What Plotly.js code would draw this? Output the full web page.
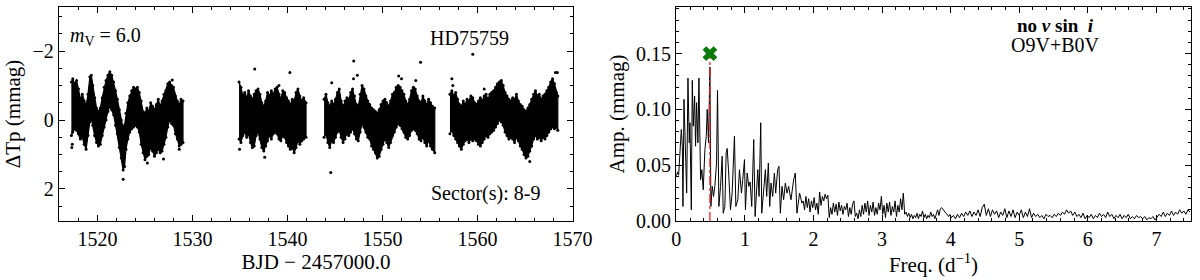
<!DOCTYPE html>
<html><head><meta charset="utf-8">
<script src="https://cdn.plot.ly/plotly-3.0.1.min.js"></script>
<style>html,body{margin:0;padding:0;background:#fff}#chart{width:1200px;height:280px}</style>
</head><body><div id="chart"></div>
<script>
// ---------- Light curve (TESS sectors 8-9), band envelopes ----------
const seg1T  = [1517.25,1517.4,1517.6,1517.8,1518.0,1518.2,1518.4,1518.6,1518.8,1519.0,1519.2,1519.35,1519.5,1519.7,1519.9,1520.1,1520.3,1520.5,1520.7,1520.9,1521.1,1521.3,1521.5,1521.7,1521.9,1522.1,1522.3,1522.5,1522.7,1522.85,1523.0,1523.2,1523.4,1523.6,1523.8,1524.0,1524.2,1524.4,1524.6,1524.8,1525.0,1525.2,1525.4,1525.6,1525.8,1526.0,1526.2,1526.4,1526.6,1526.8,1527.0,1527.2,1527.4,1527.6,1527.8,1528.0,1528.2,1528.4,1528.6,1528.8,1529.0];
const seg1Up = [-1.10,-1.20,-1.05,-1.15,-0.90,-0.60,-0.75,-0.55,-0.40,-0.75,-1.25,-1.30,-1.00,-0.65,-0.35,-0.25,-0.35,-0.65,-0.95,-1.15,-1.30,-1.40,-1.30,-1.10,-0.85,-0.60,-0.30,0.00,0.25,0.15,-0.20,-0.50,-0.70,-0.85,-0.95,-0.90,-0.95,-0.80,-0.55,-0.25,-0.20,-0.35,-0.25,-0.50,-0.40,-0.30,-0.45,-0.60,-0.40,-0.55,-0.75,-0.85,-1.05,-1.10,-1.00,-0.95,-0.70,-0.55,-0.45,-0.60,-0.55];
const seg1Lo = [0.45,0.35,0.25,0.30,0.40,0.55,0.50,0.70,0.85,0.45,0.05,-0.05,0.15,0.45,0.65,0.75,0.70,0.45,0.20,0.00,-0.25,-0.40,-0.30,-0.15,0.15,0.40,0.80,1.10,1.45,1.35,0.85,0.55,0.35,0.25,0.20,0.15,0.20,0.35,0.70,0.95,1.15,1.05,1.00,0.80,0.90,1.05,0.95,0.85,0.95,0.90,0.70,0.50,0.20,0.00,0.10,0.15,0.40,0.55,0.75,0.70,0.65];

const seg2T  = [1534.9,1535.1,1535.3,1535.5,1535.7,1535.9,1536.1,1536.3,1536.5,1536.7,1536.9,1537.1,1537.3,1537.5,1537.7,1537.9,1538.1,1538.3,1538.5,1538.7,1538.9,1539.1,1539.3,1539.5,1539.7,1539.9,1540.1,1540.3,1540.5,1540.7,1540.9,1541.1,1541.3,1541.5,1541.7,1541.95];
const seg2Up = [-1.10,-0.95,-0.70,-0.80,-0.65,-0.85,-0.70,-0.60,-0.75,-0.85,-0.90,-0.75,-0.50,-0.40,-0.55,-0.80,-0.70,-0.85,-0.75,-0.90,-0.95,-0.75,-0.60,-0.85,-0.80,-0.65,-0.55,-0.45,-0.60,-0.55,-0.80,-0.90,-0.70,-0.55,-0.65,-0.50];
const seg2Lo = [0.55,0.65,0.45,0.35,0.50,0.40,0.65,0.80,0.75,0.45,0.35,0.55,0.80,0.90,0.75,0.60,0.45,0.55,0.40,0.35,0.40,0.55,0.60,0.45,0.50,0.65,0.75,0.85,0.80,0.95,0.80,0.60,0.70,0.60,0.55,0.50];

const seg3T  = [1543.85,1544.05,1544.25,1544.45,1544.65,1544.85,1545.05,1545.25,1545.45,1545.65,1545.85,1546.05,1546.25,1546.45,1546.65,1546.85,1547.05,1547.25,1547.45,1547.65,1547.85,1548.05,1548.25,1548.45,1548.65,1548.85,1549.05,1549.25,1549.45,1549.65,1549.85,1550.05,1550.25,1550.45,1550.65,1550.85,1551.05,1551.25,1551.45,1551.65,1551.85,1552.05,1552.25,1552.45,1552.65,1552.85,1553.05,1553.25,1553.45,1553.65,1553.85,1554.05,1554.25,1554.45,1554.65,1554.85,1555.05,1555.25,1555.5];
const seg3Up = [-0.60,-0.75,-0.50,-0.40,-0.55,-0.45,-0.60,-0.80,-0.90,-0.55,-0.40,-0.55,-0.65,-0.60,-0.80,-0.90,-0.70,-0.45,-0.40,-0.75,-1.00,-0.90,-0.70,-0.55,-0.45,-0.35,-0.30,-0.25,-0.20,-0.30,-0.45,-0.55,-0.60,-0.50,-0.40,-0.55,-0.75,-0.80,-0.95,-1.00,-0.95,-0.85,-0.75,-0.55,-0.45,-0.60,-0.85,-0.95,-0.90,-0.70,-0.55,-0.50,-0.70,-0.55,-0.45,-0.60,-0.50,-0.40,-0.35];
const seg3Lo = [0.50,0.40,0.65,0.80,0.60,0.65,0.50,0.35,0.30,0.50,0.65,0.55,0.40,0.45,0.35,0.25,0.40,0.55,0.60,0.35,0.10,0.20,0.35,0.50,0.55,0.75,0.85,0.95,1.10,1.05,0.85,0.70,0.55,0.65,0.80,0.65,0.45,0.35,0.20,0.10,0.15,0.25,0.35,0.50,0.55,0.45,0.30,0.25,0.30,0.40,0.55,0.60,0.50,0.65,0.75,0.60,0.75,0.85,0.95];

const seg4T  = [1557.1,1557.3,1557.5,1557.7,1557.9,1558.1,1558.3,1558.5,1558.7,1558.9,1559.1,1559.3,1559.5,1559.7,1559.9,1560.1,1560.3,1560.5,1560.7,1560.9,1561.1,1561.3,1561.5,1561.7,1561.9,1562.1,1562.3,1562.5,1562.7,1562.9,1563.1,1563.3,1563.5,1563.7,1563.9,1564.1,1564.3,1564.5,1564.7,1564.9,1565.1,1565.3,1565.5,1565.7,1565.9,1566.1,1566.3,1566.5,1566.7,1566.9,1567.1,1567.3,1567.5,1567.7,1567.9,1568.1,1568.3,1568.45];
const seg4Up = [-0.75,-0.85,-0.70,-0.80,-0.60,-0.45,-0.40,-0.55,-0.45,-0.60,-0.55,-0.70,-0.65,-0.50,-0.45,-0.55,-0.65,-0.55,-0.70,-0.75,-0.60,-0.75,-0.80,-0.85,-0.95,-1.05,-1.10,-1.15,-1.00,-0.80,-0.70,-0.60,-0.55,-0.65,-0.60,-0.75,-0.55,-0.45,-0.40,-0.30,-0.25,-0.35,-0.45,-0.60,-0.75,-0.85,-0.70,-0.75,-0.60,-0.70,-0.75,-0.85,-0.95,-1.10,-1.20,-1.05,-0.80,-0.70];
const seg4Lo = [0.40,0.30,0.45,0.55,0.65,0.75,0.85,0.70,0.60,0.55,0.65,0.55,0.60,0.55,0.60,0.70,0.75,0.65,0.55,0.45,0.50,0.40,0.35,0.30,0.20,0.10,0.00,0.05,0.15,0.35,0.45,0.55,0.50,0.55,0.65,0.50,0.60,0.75,0.85,1.00,1.10,1.05,0.90,0.75,0.55,0.45,0.55,0.50,0.60,0.50,0.55,0.45,0.35,0.25,0.20,0.25,0.20,0.30];

// isolated points outside the band
const outT   = [1517.3,1517.35,1522.7,1525.25,1526.95,1528.6,1527.87,1536.55,1540.25,1539.1,1537.6,1534.95,1546.97,1554.0,1544.55,1544.66,1547.35,1546.95,1551.7,1552.0,1553.5,1559.5,1557.3,1557.4,1560.7,1568.2,1568.4,1565.5];
const outMag = [0.80,0.70,1.72,1.25,1.13,0.85,-1.16,-1.48,-1.38,-1.00,1.08,0.85,-1.71,-1.68,1.52,-1.08,-1.30,-1.20,-1.28,-1.20,-1.15,-1.91,-1.20,-1.00,-0.90,-1.38,-1.38,1.20];

// ---------- Amplitude spectrum ----------
const specF = [0.000,0.015,0.034,0.054,0.073,0.088,0.097,0.112,0.131,0.151,0.170,0.189,0.199,0.219,0.233,0.248,0.267,0.281,0.296,0.315,0.330,0.344,0.354,0.373,0.393,0.417,0.437,0.451,0.470,0.490,0.504,0.524,0.543,0.562,0.587,0.601,0.621,0.645,0.669,0.684,0.708,0.727,0.742,0.761,0.790,0.814,0.829,0.848,0.868,0.897,0.921,0.950,0.969,0.994,1.008,1.033,1.057,1.076,1.100,1.129,1.149,1.168,1.188,1.207,1.231,1.246,1.275,1.299,1.318,1.342,1.362,1.381,1.405,1.430,1.449,1.478,1.497,1.517,1.541,1.565,1.590,1.614,1.638,1.672,1.711,1.735,1.759,1.798,1.832,
1.85,1.87,1.89,1.91,1.93,1.95,1.97,1.99,2.01,2.03,2.05,2.07,2.09,2.11,2.13,2.15,2.17,2.19,2.21,2.23,2.25,2.27,2.29,2.31,2.33,2.35,2.37,2.39,2.41,2.43,2.45,2.47,2.49,2.51,2.53,2.55,2.57,2.59,2.61,2.63,2.65,2.67,2.69,2.71,2.73,2.75,2.77,2.79,2.81,2.83,2.85,2.87,2.89,2.91,2.93,2.95,2.97,2.99,3.01,3.03,3.05,3.07,3.09,3.11,3.13,3.15,3.17,3.19,3.21,3.23,3.25,3.27,3.29,3.31,3.33,3.35,3.37,3.39,3.41,3.43,3.45,3.47,3.49,3.51,3.53,3.55,3.57,3.59,3.61,3.63,3.65,3.67,3.69,3.71,3.73,3.75,3.77,3.79,3.81,3.83,3.85,3.87,3.89,3.91,3.93,3.95,3.97,3.99,4.01,4.04,4.07,4.10,4.13,4.16,4.19,4.22,4.25,4.28,4.31,4.34,4.37,4.40,4.43,4.46,4.49,4.52,4.55,4.58,4.61,4.64,4.67,4.70,4.73,4.76,4.79,4.82,4.85,4.88,4.91,4.94,4.97,5.00,5.03,5.06,5.09,5.12,5.15,5.18,5.21,5.24,5.27,5.30,5.33,5.36,5.39,5.42,5.45,5.48,5.51,5.54,5.57,5.60,5.63,5.66,5.69,5.72,5.75,5.78,5.81,5.84,5.87,5.90,5.93,5.96,5.99,6.02,6.05,6.08,6.11,6.14,6.17,6.20,6.23,6.26,6.29,6.32,6.35,6.38,6.41,6.44,6.47,6.50,6.53,6.56,6.59,6.62,6.65,6.68,6.71,6.74,6.77,6.80,6.83,6.86,6.89,6.92,6.95,6.98,7.01,7.04,7.07,7.10,7.13,7.16,7.19,7.22,7.25,7.28,7.31,7.34,7.37,7.40,7.43,7.46,7.49];
const specA = [0.040,0.044,0.041,0.061,0.082,0.067,0.013,0.109,0.067,0.025,0.128,0.070,0.088,0.010,0.126,0.085,0.112,0.067,0.106,0.070,0.128,0.061,0.037,0.046,0.028,0.064,0.076,0.100,0.070,0.138,0.013,0.031,0.022,0.031,0.052,0.117,0.013,0.031,0.058,0.007,0.013,0.061,0.065,0.046,0.010,0.025,0.046,0.076,0.013,0.019,0.046,0.025,0.037,0.055,0.010,0.043,0.031,0.035,0.013,0.073,0.004,0.025,0.046,0.022,0.088,0.007,0.028,0.046,0.022,0.052,0.013,0.034,0.022,0.043,0.025,0.046,0.049,0.007,0.031,0.019,0.034,0.025,0.031,0.019,0.037,0.043,0.007,0.025,0.016,
0.018,0.010,0.022,0.012,0.020,0.008,0.018,0.012,0.021,0.010,0.016,0.006,0.026,0.014,0.022,0.018,0.024,0.020,0.023,0.003,0.012,0.006,0.016,0.008,0.015,0.005,0.017,0.009,0.014,0.006,0.013,0.010,0.016,0.004,0.012,0.006,0.015,0.018,0.004,0.007,0.002,0.010,0.004,0.014,0.006,0.016,0.008,0.018,0.005,0.014,0.008,0.017,0.005,0.012,0.006,0.016,0.010,0.022,0.006,0.014,0.003,0.016,0.008,0.017,0.005,0.013,0.008,0.018,0.004,0.014,0.008,0.020,0.010,0.025,0.006,0.008,0.004,0.007,0.003,0.006,0.002,0.005,0.003,0.007,0.002,0.006,0.004,0.009,0.003,0.006,0.002,0.005,0.003,0.008,0.004,0.006,0.002,0.006,0.010,0.005,0.011,0.012,0.010,0.009,0.007,0.006,0.004,0.006,0.003,0.005,0.002,0.006,0.003,0.007,0.004,0.008,0.005,0.009,0.004,0.008,0.005,0.010,0.004,0.012,0.015,0.005,0.011,0.004,0.010,0.006,0.009,0.003,0.008,0.005,0.011,0.003,0.009,0.004,0.010,0.003,0.008,0.005,0.010,0.003,0.008,0.004,0.011,0.003,0.007,0.004,0.006,0.003,0.005,0.002,0.006,0.004,0.005,0.003,0.006,0.004,0.007,0.005,0.008,0.006,0.010,0.007,0.009,0.005,0.008,0.004,0.006,0.003,0.007,0.002,0.005,0.003,0.006,0.002,0.005,0.003,0.007,0.004,0.006,0.003,0.008,0.004,0.006,0.002,0.005,0.003,0.006,0.002,0.005,0.003,0.006,0.002,0.004,0.002,0.005,0.003,0.004,0.002,0.004,0.001,0.003,0.002,0.004,0.001,0.004,0.006,0.004,0.008,0.004,0.007,0.005,0.009,0.005,0.008,0.006,0.010,0.007,0.009,0.006,0.010,0.008];

const peakF = [0.49];
const peakA = [0.150];

// ---------- build traces ----------
const FONT = 'Liberation Serif, Times New Roman, serif';
const segs = [[seg1T,seg1Up,seg1Lo],[seg2T,seg2Up,seg2Lo],[seg3T,seg3Up,seg3Lo],[seg4T,seg4Up,seg4Lo]];
const traces = [];
segs.forEach(([t,u,l]) => {
  traces.push({
    x: t.concat(t.slice().reverse()),
    y: u.concat(l.slice().reverse()),
    mode: 'lines', fill: 'toself', fillcolor: '#000',
    line: {color: '#000', width: 1.2},
    xaxis: 'x', yaxis: 'y', hoverinfo: 'skip', showlegend: false
  });
  traces.push({
    x: t.concat(t), y: u.concat(l), mode: 'markers',
    marker: {color: '#000', size: 3},
    xaxis: 'x', yaxis: 'y', hoverinfo: 'skip', showlegend: false
  });
});
traces.push({x: outT, y: outMag, mode: 'markers', marker: {color: '#000', size: 3},
  xaxis: 'x', yaxis: 'y', showlegend: false});
traces.push({x: specF, y: specA, mode: 'lines', line: {color: '#000', width: 1},
  xaxis: 'x2', yaxis: 'y2', showlegend: false});
traces.push({x: [peakF[0], peakF[0]], y: [0, peakA[0]], mode: 'lines',
  line: {color: '#ff2020', width: 1.3, dash: 'dashdot'}, xaxis: 'x2', yaxis: 'y2', showlegend: false});
traces.push({x: peakF, y: peakA, mode: 'markers',
  marker: {symbol: 'x', size: 13, color: '#0a7a0a'}, xaxis: 'x2', yaxis: 'y2', showlegend: false});

const axBase = {
  showline: true, linecolor: '#000', linewidth: 1.2, mirror: 'allticks',
  ticks: 'inside', ticklen: 6, tickwidth: 1, tickcolor: '#000',
  showgrid: false, zeroline: false,
  tickfont: {family: FONT, size: 20, color: '#000'}
};
const W = 1200, H = 280;
const TS = 21;
const layout = {
  width: W, height: H,
  margin: {l: 0, r: 0, t: 0, b: 0},
  paper_bgcolor: '#fff', plot_bgcolor: '#fff',
  font: {family: FONT, color: '#000'},
  xaxis: Object.assign({}, axBase, {
    domain: [59/W, 573/W], range: [1515.95, 1570.05], dtick: 10, tick0: 1520,
    minor: {ticks: 'inside', ticklen: 3, dtick: 2, tickcolor: '#000'},
    title: {text: 'BJD \u2212 2457000.0', font: {family: FONT, size: TS}, standoff: 4},
    anchor: 'y'
  }),
  yaxis: Object.assign({}, axBase, {
    domain: [1 - 221/H, 1 - 7/H], range: [2.93, -3.28], dtick: 2, tick0: 0,
    minor: {ticks: 'inside', ticklen: 3, dtick: 0.5, tickcolor: '#000'},
    title: {text: '\u0394Tp (mmag)', font: {family: FONT, size: TS}, standoff: 6},
    anchor: 'x'
  }),
  xaxis2: Object.assign({}, axBase, {
    domain: [676.3/W, 1190.7/W], range: [0, 7.5], dtick: 1, tick0: 0,
    minor: {ticks: 'inside', ticklen: 3, dtick: 0.2, tickcolor: '#000'},
    title: {text: 'Freq. (d<sup>\u22121</sup>)', font: {family: FONT, size: TS}, standoff: 4},
    anchor: 'y2'
  }),
  yaxis2: Object.assign({}, axBase, {
    domain: [1 - 221/H, 1 - 7/H], range: [0, 0.1917], dtick: 0.05, tick0: 0, tickformat: '.2f',
    minor: {ticks: 'inside', ticklen: 3, dtick: 0.01, tickcolor: '#000'},
    title: {text: 'Amp. (mmag)', font: {family: FONT, size: TS}, standoff: 5},
    anchor: 'x2'
  }),
  annotations: [
    {text: '<i>m</i><sub>V</sub> = 6.0', x: 105/W, y: 1 - 36/H, xref: 'paper', yref: 'paper',
     xanchor: 'center', yanchor: 'middle', showarrow: false, font: {family: FONT, size: 20}},
    {text: 'HD75759', x: 469.5/W, y: 1 - 38/H, xref: 'paper', yref: 'paper',
     xanchor: 'center', yanchor: 'middle', showarrow: false, font: {family: FONT, size: 20}},
    {text: 'Sector(s): 8-9', x: 485.5/W, y: 1 - 193/H, xref: 'paper', yref: 'paper',
     xanchor: 'center', yanchor: 'middle', showarrow: false, font: {family: FONT, size: 20}},
    {text: '<b>no\u00a0<i>v</i>\u00a0sin\u00a0\u00a0<i>i</i></b>', x: 1055/W, y: 1 - 25/H, xref: 'paper', yref: 'paper',
     xanchor: 'center', yanchor: 'middle', showarrow: false, font: {family: FONT, size: 19}},
    {text: 'O9V+B0V', x: 1055/W, y: 1 - 45/H, xref: 'paper', yref: 'paper',
     xanchor: 'center', yanchor: 'middle', showarrow: false, font: {family: FONT, size: 20}}
  ]
};
Plotly.newPlot('chart', traces, layout, {displayModeBar: false, staticPlot: true});
</script></body></html>
